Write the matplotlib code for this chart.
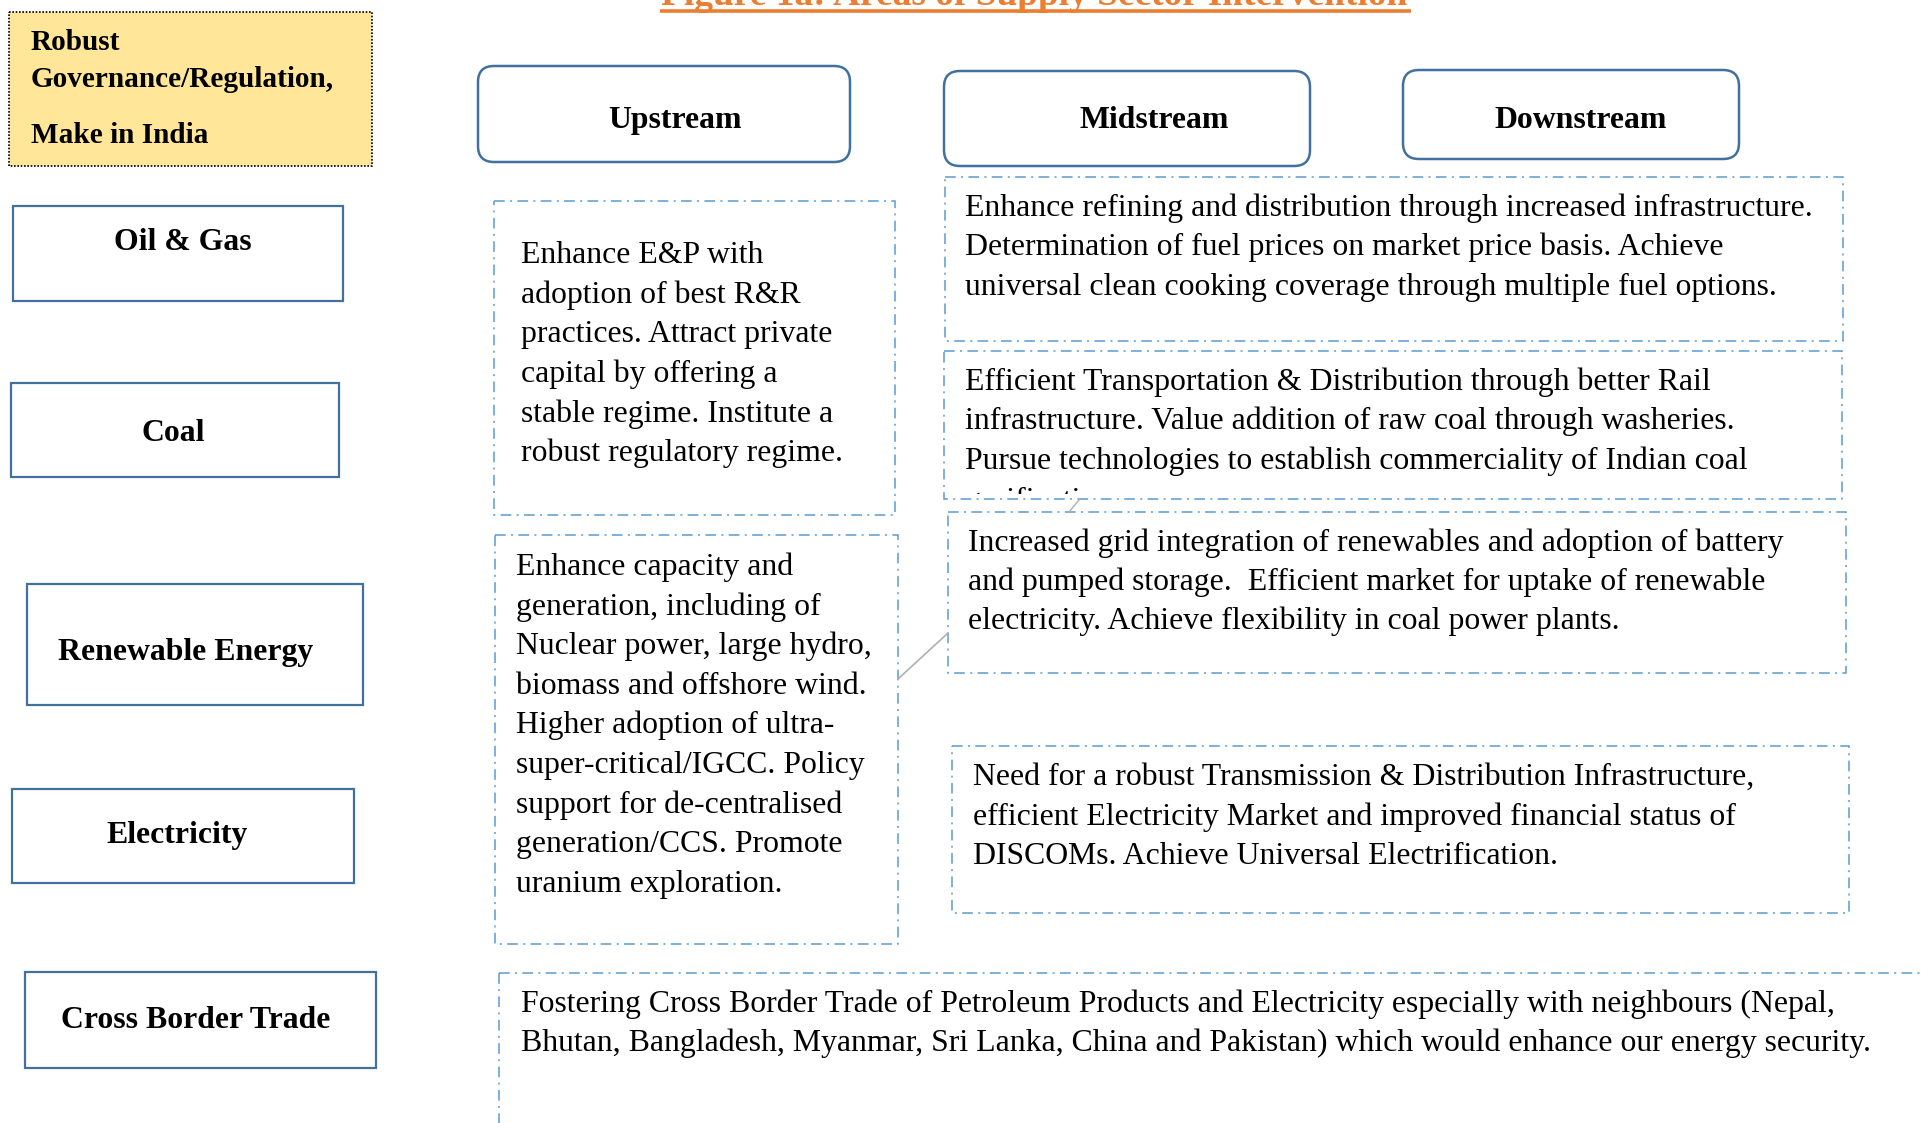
import matplotlib.pyplot as plt
from matplotlib.patches import Rectangle, FancyBboxPatch

plt.rcParams['font.family'] = ['Liberation Serif', 'DejaVu Serif']

# texts of the diagram
titre = "Figure 1a: Areas of Supply Sector Intervention"
gouvernance = ["Robust", "Governance/Regulation,", "Make in India"]
secteurs = ["Oil & Gas", "Coal", "Renewable Energy", "Electricity", "Cross Border Trade"]
etapes = ["Upstream", "Midstream", "Downstream"]

txt_up_oil = ["Enhance E&P with", "adoption of best R&R", "practices. Attract private",
              "capital by offering a", "stable regime. Institute a", "robust regulatory regime."]
txt_up_re = ["Enhance capacity and", "generation, including of", "Nuclear power, large hydro,",
             "biomass and offshore wind.", "Higher adoption of ultra-", "super-critical/IGCC. Policy",
             "support for de-centralised", "generation/CCS. Promote", "uranium exploration."]
txt_oil = ["Enhance refining and distribution through increased infrastructure.",
           "Determination of fuel prices on market price basis. Achieve",
           "universal clean cooking coverage through multiple fuel options."]
txt_coal = ["Efficient Transportation & Distribution through better Rail",
            "infrastructure. Value addition of raw coal through washeries.",
            "Pursue technologies to establish commerciality of Indian coal",
            "gasification."]
txt_re = ["Increased grid integration of renewables and adoption of battery",
          "and pumped storage.  Efficient market for uptake of renewable",
          "electricity. Achieve flexibility in coal power plants."]
txt_elec = ["Need for a robust Transmission & Distribution Infrastructure,",
            "efficient Electricity Market and improved financial status of",
            "DISCOMs. Achieve Universal Electrification."]
txt_cbt = ["Fostering Cross Border Trade of Petroleum Products and Electricity especially with neighbours (Nepal,",
           "Bhutan, Bangladesh, Myanmar, Sri Lanka, China and Pakistan) which would enhance our energy security."]

# layout (pixels, y going down)
boites_secteurs = [(13, 206, 330, 95), (11, 383, 328, 94), (27, 584, 336, 121),
                   (12, 789, 342, 94), (25, 972, 351, 96)]
pos_secteurs = [(183, 250), (173, 441), (186, 660), (177, 843), (196, 1028)]
boites_etapes = [(478, 66, 372, 96), (944, 71, 366, 95), (1403, 70, 336, 89)]
pos_etapes = [(675, 128), (1154, 128), (1581, 128)]

# (box, text left, first baseline, spacing, lines)
blocs = [
    ((494, 201, 401, 314), 521, 263, 39.7, txt_up_oil),
    ((495, 535, 403, 409), 516, 575, 39.6, txt_up_re),
    ((945, 177, 898, 164), 965, 216, 39.5, txt_oil),
    ((944, 351, 898, 148), 965, 390, 39.5, txt_coal),
    ((948, 512, 898, 161), 968, 551, 38.8, txt_re),
    ((952, 746, 897, 167), 973, 785, 39.5, txt_elec),
    ((499, 973, 1600, 300), 521, 1012, 39.0, txt_cbt),
]

bleu = '#41719C'
bleu_clair = '#5B9BD5'
orange = '#ED7D31'
tirets = (0, (7, 3.5, 1.3, 3.5))

fig = plt.figure(figsize=(19.21, 11.23), dpi=100)
ax = fig.add_axes([0, 0, 1, 1])
ax.set_xlim(0, 1921)
ax.set_ylim(1123, 0)
ax.axis('off')

# title, mostly cut at the top of the page (as in the source)
ax.text(661, 5, titre, color=orange, fontsize=26.9, fontweight='bold', va='baseline', ha='left')
ax.plot([660, 1411], [11, 11], color=orange, lw=2.6, solid_capstyle='butt')

# yellow box
ax.add_patch(Rectangle((9, 12), 363, 154, facecolor='#FFE699', edgecolor='black',
                       lw=1.2, linestyle=(0, (1, 1))))
for t, y in zip(gouvernance, [50, 87, 143]):
    ax.text(31, y, t, fontsize=21.1, fontweight='bold', va='baseline')

# sector boxes
for nom, (x, y, w, h), (tx, ty) in zip(secteurs, boites_secteurs, pos_secteurs):
    ax.add_patch(Rectangle((x, y), w, h, facecolor='white', edgecolor=bleu, lw=1.6))
    ax.text(tx, ty, nom, fontsize=22.9, fontweight='bold', ha='center', va='baseline')

# stage headers
for nom, (x, y, w, h), (tx, ty) in zip(etapes, boites_etapes, pos_etapes):
    ax.add_patch(FancyBboxPatch((x, y), w, h, boxstyle='round,pad=0,rounding_size=16',
                                facecolor='white', edgecolor=bleu, lw=1.8))
    ax.text(tx, ty, nom, fontsize=22.9, fontweight='bold', ha='center', va='baseline')

# connector stubs
ax.plot([898, 948], [679, 633], color='#B0B0B0', lw=1.2, zorder=5)
ax.plot([1069, 1079], [512, 500], color='#B0B0B0', lw=1.0, zorder=5)

# text boxes (frames drawn on top)
for (x, y, w, h), tx, ty, dy, lignes in blocs:
    ax.add_patch(Rectangle((x, y), w, h, facecolor='none', edgecolor=bleu_clair, lw=1.1,
                           linestyle=tirets, zorder=4))
    for i, l in enumerate(lignes):
        ax.text(tx, ty + i * dy, l, fontsize=22.9, va='baseline', ha='left', zorder=3)

# last line of the coal box overflows: hide what falls past the inner margin
(cx, cy, cw, ch) = blocs[3][0]
ax.add_patch(Rectangle((cx, cy + ch - 5), cw, 28, facecolor='white', edgecolor='none',
                       zorder=3.5))

fig.savefig("out.png", dpi=100)
